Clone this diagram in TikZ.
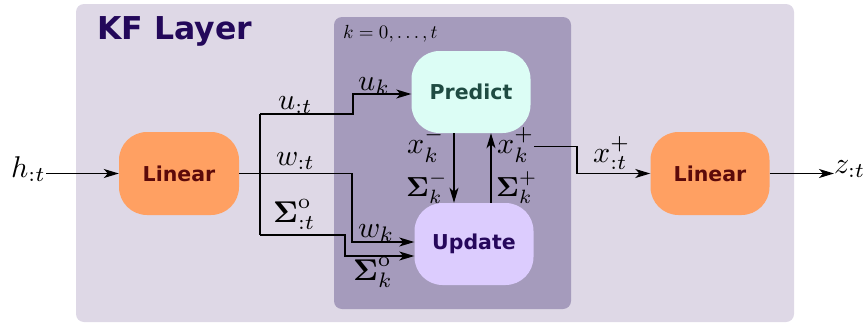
\documentclass[tikz,border=0pt]{standalone}
\usepackage{amsmath}
\usepackage{graphicx}
\usepackage[no-math]{fontspec}
\newfontfamily\dejavu{DejaVu Sans}
\usetikzlibrary{arrows.meta}
\newcommand{\bigmathlbl}[1]{\scalebox{3}{$#1$}}
\newcommand{\sigmalbl}[1]{\scalebox{2.75}{$#1$}}
\definecolor{outerbg}{RGB}{222,216,230}
\definecolor{innerbg}{RGB}{165,155,188}
\definecolor{predfill}{RGB}{220,253,245}
\definecolor{predtext}{RGB}{31,75,66}
\definecolor{updfill}{RGB}{220,204,254}
\definecolor{updtext}{RGB}{38,8,92}
\definecolor{linfill}{RGB}{255,160,98}
\definecolor{lintext}{RGB}{92,10,10}
\definecolor{titletext}{RGB}{35,8,90}
\begin{document}
\begin{tikzpicture}[x=1pt,y=-1pt,
  blk/.style={rounded corners=28pt, minimum width=119pt, minimum height=82pt, inner sep=0pt,
    font=\dejavu\bfseries\fontsize{20.5}{24}\selectfont},
  lbl/.style={anchor=base west, inner sep=0pt},
  wire/.style={line width=1.3pt},
  conn/.style={line width=1.3pt, -{Stealth[length=15pt,width=9pt,inset=4pt]}}]
\path[use as bounding box] (0,0) rectangle (865,324);
\fill[outerbg, rounded corners=8pt] (76,4) rectangle (794,322);
\fill[innerbg, rounded corners=8pt] (334,17) rectangle (571,309);
\node[anchor=base west, inner sep=0pt, text=titletext,
  font=\dejavu\bfseries\fontsize{31.5}{36}\selectfont] (title) at (97,39) {KF Layer};
\node[lbl] (range) at (343,38) {\scalebox{1.9}{$k=0,\ldots,t$}};
% blocks
\node[blk, fill=linfill, text=lintext, minimum width=120pt, minimum height=83pt] (lin1) at (179,173.5) {Linear};
\node[blk, fill=linfill, text=lintext, minimum height=83pt] (lin2) at (710,173.5) {Linear};
\node[blk, fill=predfill, text=predtext] (pred) at (471,92) {Predict};
\node[blk, fill=updfill, text=updtext] (upd) at (474,244) {Update};
% labels
\node[lbl] (h) at (11,177) {\bigmathlbl{h_{:t}}};
\node[lbl] (z) at (834,173) {\bigmathlbl{z_{:t}}};
\node[lbl] (ut) at (278,109) {\bigmathlbl{u_{:t}}};
\node[lbl] (wt) at (276,165) {\bigmathlbl{w_{:t}}};
\node[lbl] (st) at (273,222) {\bigmathlbl{\boldsymbol{\Sigma}^{\mathrm{o}}_{:t}}};
\node[lbl] (uk) at (358,90) {\bigmathlbl{u_k}};
\node[lbl] (wk) at (358,237) {\bigmathlbl{w_k}};
\node[lbl] (sk) at (353,280) {\bigmathlbl{\boldsymbol{\Sigma}^{\mathrm{o}}_k}};
\node[lbl] (xkm) at (407,153) {\bigmathlbl{x_k^-}};
\node[lbl] (skm) at (406,196) {\sigmalbl{\boldsymbol{\Sigma}_k^-}};
\node[lbl] (xkp) at (497,153) {\bigmathlbl{x_k^+}};
\node[lbl] (skp) at (496,196) {\sigmalbl{\boldsymbol{\Sigma}_k^+}};
\node[lbl] (xtp) at (593,162) {\bigmathlbl{x_{:t}^+}};
% coordinates
\coordinate (ub1) at (260,114);
\coordinate (ub2) at (353,94);
\coordinate (sb1) at (260,235);
\coordinate (sb2) at (345,256);
\coordinate (wb) at (352,242);
\coordinate (dx) at (454,0);
\coordinate (ux) at (491,0);
\coordinate (kink) at (577,0);
% connectors
\draw[conn] (h.east |- lin1.west) -- (lin1.west);
\draw[conn] (lin2.east) -- (z.west |- lin2.east);
\draw[conn] (lin1.east) -| (wb) -- (upd.west |- wb);
\draw[wire] (ub1) -- (sb1);
\draw[conn] (ub1) -| (ub2) -- (pred.west |- ub2);
\draw[conn] (sb1) -| (sb2) -- (upd.west |- sb2);
\draw[conn] (pred.south -| dx) -- (upd.north -| dx);
\draw[conn] (upd.north -| ux) -- (pred.south -| ux);
\draw[conn] ([yshift=-2pt]xkp.east) -| (kink |- lin2.west) -- (lin2.west);
\end{tikzpicture}
\end{document}
